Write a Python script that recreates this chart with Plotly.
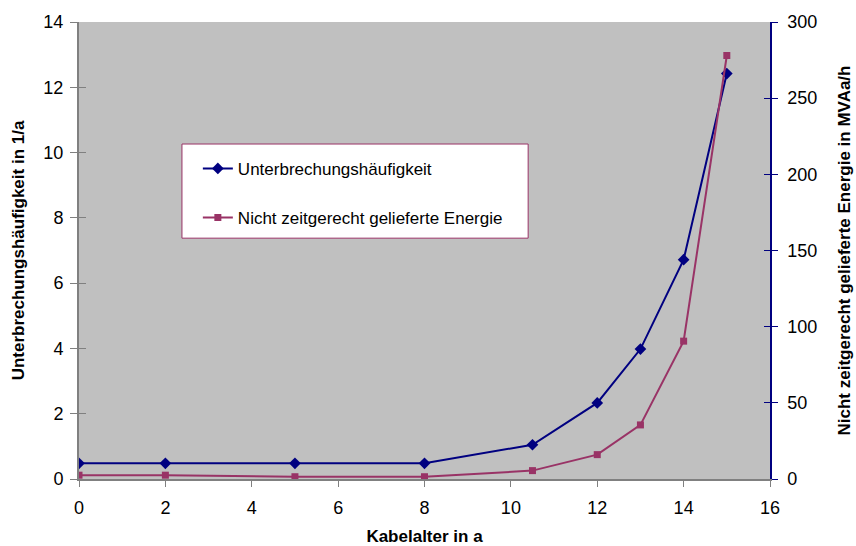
import plotly.graph_objects as go

# Cable age in years
kabelalter = [0, 2, 5, 8, 10.5, 12, 13, 14, 15]
# Interruption frequency (1/a), left axis
unterbrechung = [0.48, 0.48, 0.48, 0.48, 1.05, 2.33, 3.98, 6.72, 12.42]
# Energy not delivered in time (MVAa/h), right axis
energie = [2.5, 2.5, 1.5, 1.5, 5.5, 16, 35.5, 90.5, 278]

x_ticks = [0, 2, 4, 6, 8, 10, 12, 14, 16]
y1_ticks = [0, 2, 4, 6, 8, 10, 12, 14]
y2_ticks = [0, 50, 100, 150, 200, 250, 300]

BLUE = "#000080"
PURPLE = "#993366"
GRAY = "#808080"
FONT = "Liberation Sans, Arial, sans-serif"

fig = go.Figure()
fig.add_trace(go.Scatter(
    x=kabelalter, y=unterbrechung, name="Unterbrechungshäufigkeit",
    mode="lines+markers", legendgroup="a",
    line=dict(color=BLUE, width=2),
    marker=dict(symbol="diamond", size=9, color=BLUE),
))
fig.add_trace(go.Scatter(
    x=kabelalter, y=energie, name="Nicht zeitgerecht gelieferte Energie",
    mode="lines+markers", legendgroup="b", yaxis="y2",
    line=dict(color=PURPLE, width=2),
    marker=dict(symbol="square", size=7, color=PURPLE),
))
# empty traces so the inner tick axes get drawn
for ax in ("y3", "y4"):
    fig.add_trace(go.Scatter(x=[], y=[], yaxis=ax, showlegend=False, hoverinfo="skip"))

# legend frame
fig.add_shape(type="rect", xref="paper", yref="paper",
              x0=0.149, x1=0.650, y0=0.527, y1=0.733,
              fillcolor="white", line=dict(color=PURPLE, width=1), layer="above")

fig.update_layout(
    width=856, height=546,
    margin=dict(l=79, r=86, t=22, b=67, autoexpand=False),
    paper_bgcolor="white", plot_bgcolor="#C0C0C0",
    font=dict(family=FONT, size=18, color="black"),
    showlegend=True,
    legend=dict(x=0.172, y=0.718, xanchor="left", yanchor="top",
                bgcolor="rgba(0,0,0,0)", borderwidth=0,
                font=dict(size=17), itemwidth=30, tracegroupgap=24,
                traceorder="grouped"),
    xaxis=dict(range=[0, 16], tickvals=x_ticks, showgrid=False, zeroline=False,
               automargin=False,
               showline=True, linecolor=GRAY, linewidth=2,
               ticks="outside", ticklen=6, tickcolor=GRAY, ticklabelstandoff=5,
               title=dict(text="<b>Kabelalter in a</b>", font=dict(size=17), standoff=24)),
    yaxis=dict(range=[0, 14], tickvals=y1_ticks, showgrid=False, zeroline=False,
               automargin=False,
               showline=True, linecolor=GRAY, linewidth=2,
               ticks="outside", ticklen=7, tickcolor=GRAY, ticklabelstandoff=3,
               title=dict(text="<b>Unterbrechungshäufigkeit in 1/a</b>", font=dict(size=17), standoff=14)),
    yaxis2=dict(range=[0, 300], tickvals=y2_ticks, overlaying="y", side="right",
                showgrid=False, zeroline=False, automargin=False,
                showline=True, linecolor=BLUE, linewidth=1.5,
                ticks="outside", ticklen=6, tickcolor=BLUE, ticklabelstandoff=6,
                title=dict(text="<b>Nicht zeitgerecht gelieferte Energie in MVAa/h</b>", font=dict(size=17), standoff=22)),
    yaxis3=dict(range=[0, 14], tickvals=y1_ticks, overlaying="y", side="left",
                showgrid=False, zeroline=False, automargin=False, showline=False,
                showticklabels=False, ticks="inside", ticklen=7, tickcolor=GRAY),
    yaxis4=dict(range=[0, 300], tickvals=y2_ticks, overlaying="y", side="right",
                showgrid=False, zeroline=False, automargin=False, showline=False,
                showticklabels=False, ticks="inside", ticklen=6, tickcolor=BLUE),
)

fig.write_html("out.html")
